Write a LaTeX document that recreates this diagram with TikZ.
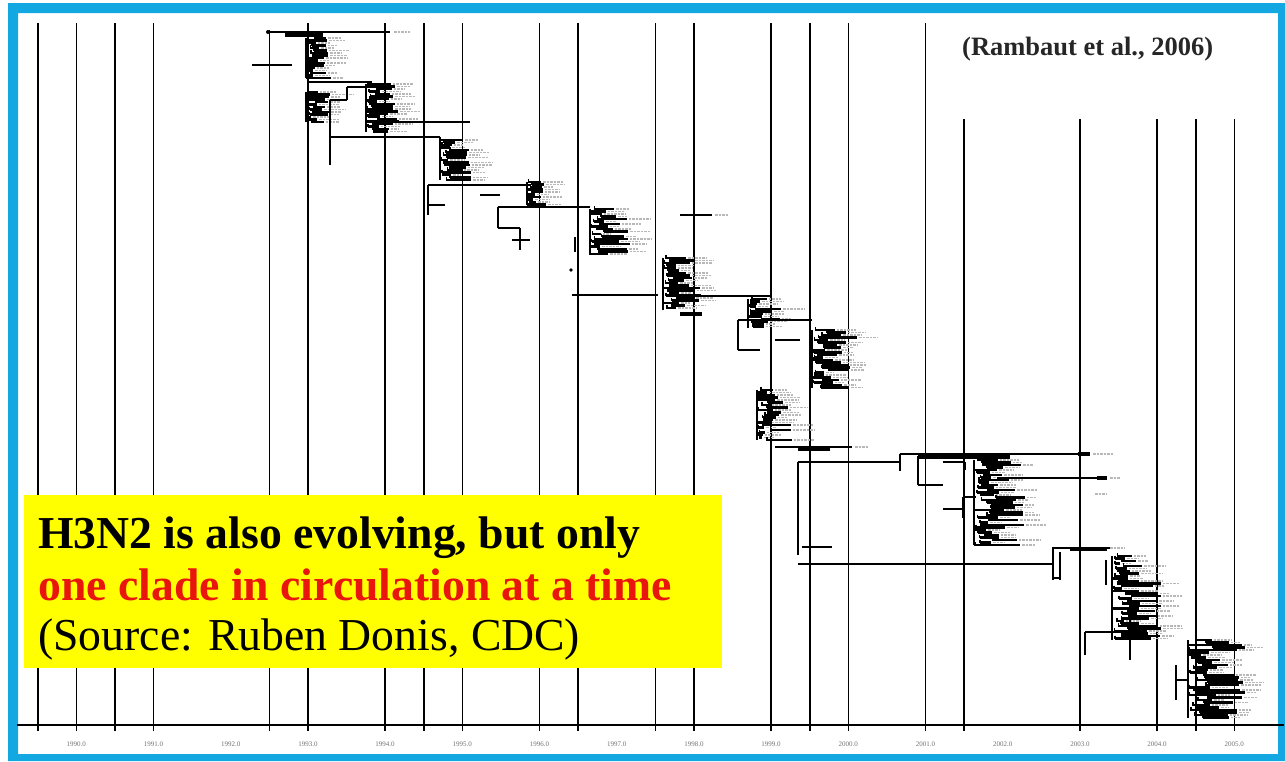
\documentclass[tikz,border=0pt]{standalone}
\usepackage{fontspec}
\setmainfont{Liberation Serif}
\definecolor{frameblue}{RGB}{20,168,226}
\definecolor{boxred}{RGB}{232,22,12}
\definecolor{boxyellow}{RGB}{255,255,0}
\tikzset{
  gridline/.style={line width=1.6pt, black},
  tree/.style={line width=2pt, black},
  leaf/.style={line width=2.1pt, black},
  thickbar/.style={line width=4pt, black},
  tiplab/.style={line width=1.6pt, black!28, dash pattern=on 2.5pt off 1pt},
  axlab/.style={font=\fontsize{7}{8}\selectfont, text=black!55, inner sep=0pt},
}
\newcommand\clade[6]{%
  \pgfmathsetseed{#1}%
  \draw[tree] (#2,#3) -- (#2,#4);%
  \pgfmathsetmacro\ysec{#3+2.5}%
  \foreach \yy in {#3,\ysec,...,#4}{%
    \pgfmathsetmacro\tip{#5+rnd*(#6-#5)}%
    \pgfmathsetmacro\st{#2+rnd*0.45*(\tip-#2)}%
    \pgfmathsetmacro\gl{8+rnd*14}%
    \draw[leaf] (\st,\yy) -- (\tip,\yy);
    \draw[line width=1.4pt] (\st,\yy-2.8) -- (\st,\yy+0.6);
    \draw[tiplab] (\tip+2,\yy) -- ++(\gl,0);
  }}
\begin{document}
\begin{tikzpicture}[x=1pt,y=-1pt]
\useasboundingbox (0,0) rectangle (1285,761);
\fill[white] (0,0) rectangle (1285,761);
% frame
\fill[frameblue,even odd rule] (8,3) rectangle (1285,761) (18,13) rectangle (1278,754);
% grid lines
\foreach \k in {0,1,2,3,7,9,10,11,13,14,16,17,19,20,21,23}
  \draw[gridline] ({37.7+38.6*\k},23) -- ({37.7+38.6*\k},731);
\draw[gridline] ({37.7+38.6*6},30) -- ({37.7+38.6*6},731);
\foreach \k in {24,27,29,30,31}
  \draw[gridline] ({37.7+38.6*\k},119) -- ({37.7+38.6*\k},731);
\draw[gridline] (17,725) -- (1284,725);
\foreach \i in {0,...,15}{
  \pgfmathsetmacro\xx{37.7+38.6*(2*\i+1)}
  \pgfmathtruncatemacro\yr{1990+\i}
  \node[axlab] (t\i) at (\xx,744) {\yr.0};
}
% ---- tree backbone ----
% A
\draw[tree] (252,65) -- (292,65);
\draw[line width=1.8pt] (268,32) -- (390,32);
\fill (268,32) circle (2);
\draw[thickbar] (285,35) -- (323,35);
\draw[tiplab] (394,32) -- (410,32);
\clade{11}{306}{38}{78}{312}{334}
\clade{12}{306}{92}{122}{310}{332}
% A -> B
\draw[tree] (308,82) -- (372,82);
\draw[tree] (347,87) -- (367,87);
\draw[tree] (347,87) -- (347,100);
\draw[tree] (330,100) -- (347,100);
\draw[tree] (330,100) -- (330,165);
\draw[tree] (330,137) -- (440,137);
\clade{21}{366}{84}{132}{376}{400}
\draw[tree] (395,122) -- (470,122);
% C
\clade{31}{440}{140}{180}{448}{474}
\draw[tree] (428,185) -- (530,185);
\draw[tree] (428,185) -- (428,215);
\draw[tree] (428,205) -- (445,205);
\draw[tree] (480,195) -- (500,195);
% D
\clade{41}{527}{182}{205}{533}{548}
\draw[tree] (498,207) -- (590,207);
\draw[tree] (498,207) -- (498,228);
\draw[tree] (498,228) -- (520,228);
\draw[tree] (520,228) -- (520,250);
\draw[tree] (512,240) -- (530,240);
% E
\clade{51}{590}{209}{255}{598}{630}
\draw[tree] (575,237) -- (575,252);
\fill (571,270) circle (1.8);
\draw[tree] (572,295) -- (658,295);
% F
\clade{61}{663}{258}{310}{672}{702}
\draw[line width=1.8pt] (680,215) -- (712,215);
\draw[tiplab] (715,215) -- (728,215);
\draw[tree] (700,296) -- (770,296);
\draw[thickbar] (680,314) -- (702,314);
% G
\clade{71}{748}{299}{328}{755}{782}
\draw[tree] (738,320) -- (812,320);
\draw[tree] (738,320) -- (738,350);
\draw[tree] (738,350) -- (760,350);
% H
\clade{81}{812}{330}{388}{820}{858}
\draw[tree] (775,340) -- (800,340);
% I
\clade{91}{757}{390}{440}{762}{792}
\draw[tree] (775,447) -- (852,447);
\draw[thickbar] (798,449) -- (830,449);
\draw[tiplab] (855,447) -- (868,447);
% J
\draw[tree] (798,462) -- (798,555);
\draw[tree] (798,462) -- (900,462);
\draw[tree] (900,454) -- (900,471);
\draw[tree] (900,454) -- (1090,454);
\draw[thickbar] (1078,454) -- (1090,454);
\draw[tiplab] (1093,454) -- (1113,454);
\draw[tree] (918,456) -- (918,485);
\draw[tree] (918,485) -- (943,485);
\draw[thickbar] (918,457) -- (1010,457);
\draw[tree] (943,462) -- (965,462);
\draw[tree] (965,462) -- (965,470);
\clade{101}{974}{460}{545}{985}{1025}
\draw[tree] (997,478) -- (1105,478);
\draw[thickbar] (1097,478) -- (1107,478);
\draw[tiplab] (1110,478) -- (1120,478);
\draw[tiplab] (1095,494) -- (1107,494);
\draw[tree] (963,497) -- (963,518);
\draw[tree] (943,509) -- (963,509);
\draw[tree] (963,497) -- (976,497);
% J -> K
\draw[tree] (802,547) -- (832,547);
\draw[tree] (798,564) -- (1053,564);
\draw[tree] (1053,547) -- (1053,580);
\draw[tree] (1060,552) -- (1060,580);
\draw[tree] (1053,578) -- (1060,578);
\draw[tree] (1053,548) -- (1113,548);
\draw[thickbar] (1070,549) -- (1107,549);
\draw[tiplab] (1110,548) -- (1125,548);
% K
\draw[tree] (1106,560) -- (1106,585);
\clade{111}{1112}{556}{640}{1120}{1162}
\draw[tree] (1085,632) -- (1085,655);
\draw[tree] (1085,632) -- (1140,632);
\draw[tree] (1130,605) -- (1130,660);
% L
\clade{121}{1188}{640}{718}{1200}{1248}
\draw[tree] (1176,665) -- (1176,700);
\draw[tree] (1176,680) -- (1188,680);
% ---- title ----
\node[anchor=base west, inner sep=0pt, font=\bfseries\fontsize{26.5}{30}\selectfont, text=black!85] (ref) at (962,55) {(Rambaut et al., 2006)};
% ---- yellow box ----
\node[fill=boxyellow, inner sep=0pt, minimum width=698pt, minimum height=173pt, anchor=north west] (box) at (24,495) {};
\node[anchor=base west, inner sep=0pt, font=\bfseries\fontsize{45.7}{50}\selectfont] (l1) at (38,548) {H3N2 is also evolving, but only};
\node[anchor=base west, inner sep=0pt, font=\bfseries\fontsize{45.7}{50}\selectfont, text=boxred] (l2) at (38,600) {one clade in circulation at a time};
\node[anchor=base west, inner sep=0pt, font=\fontsize{45.7}{50}\selectfont] (l3) at (38,650) {(Source: Ruben Donis, CDC)};
\end{tikzpicture}
\end{document}
